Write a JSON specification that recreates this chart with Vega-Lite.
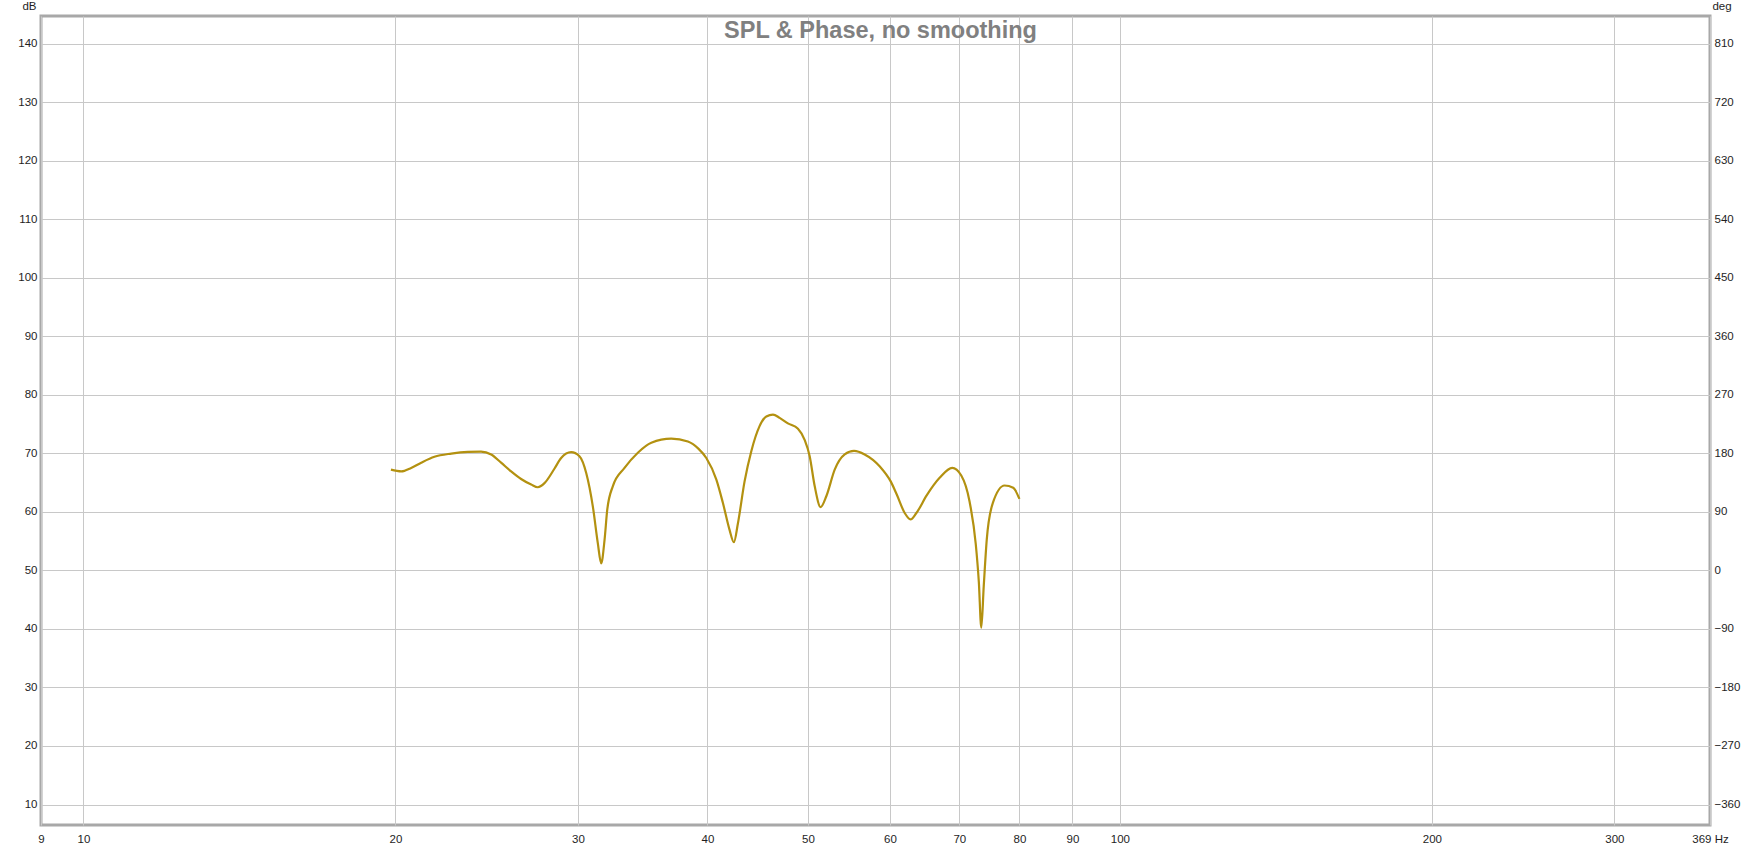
{
  "$schema": "https://vega.github.io/schema/vega-lite/v6.json",
  "width": 1669,
  "height": 809,
  "autosize": {"type": "none"},
  "padding": {"left": 41, "top": 16, "right": 52, "bottom": 24},
  "background": "white",
  "title": {
    "text": "SPL & Phase, no smoothing",
    "font": "Liberation Sans",
    "fontWeight": "bold",
    "fontSize": 23.5,
    "color": "#808080",
    "anchor": "middle",
    "frame": "group",
    "baseline": "alphabetic",
    "offset": -61.5,
    "dx": 5
  },
  "config": {
    "view": {"stroke": "#a8a8a8", "strokeWidth": 3},
    "axis": {
      "labelFont": "Liberation Sans",
      "labelFontSize": 11.5,
      "labelColor": "#1e1e1e",
      "titleFont": "Liberation Sans",
      "titleFontSize": 11.5,
      "titleFontWeight": "normal",
      "titleColor": "#1e1e1e",
      "ticks": false,
      "domain": false,
      "gridColor": "#c8c8c8",
      "gridWidth": 1,
      "gridOpacity": 1,
      "labelOverlap": false,
      "labelFlush": false,
      "labelBound": false
    }
  },
  "data": {
    "values": [
      {"f": 19.8, "spl": 67.2},
      {"f": 20.26, "spl": 66.9},
      {"f": 20.71, "spl": 67.5},
      {"f": 21.18, "spl": 68.4},
      {"f": 21.81, "spl": 69.4},
      {"f": 22.64, "spl": 69.95},
      {"f": 23.49, "spl": 70.25},
      {"f": 24.19, "spl": 70.3},
      {"f": 24.74, "spl": 69.8},
      {"f": 25.29, "spl": 68.4},
      {"f": 25.86, "spl": 66.9},
      {"f": 26.44, "spl": 65.6},
      {"f": 27.04, "spl": 64.65},
      {"f": 27.44, "spl": 64.2},
      {"f": 27.85, "spl": 64.9},
      {"f": 28.48, "spl": 67.4},
      {"f": 28.9, "spl": 69.2},
      {"f": 29.55, "spl": 70.2},
      {"f": 30.1, "spl": 69.5},
      {"f": 30.56, "spl": 66.6},
      {"f": 31.01, "spl": 60.9},
      {"f": 31.35, "spl": 54.7},
      {"f": 31.59, "spl": 51.2},
      {"f": 31.83, "spl": 55.3},
      {"f": 32.02, "spl": 60.4},
      {"f": 32.42, "spl": 64.4},
      {"f": 33.27, "spl": 67.5},
      {"f": 34.27, "spl": 70.1},
      {"f": 35.31, "spl": 71.8},
      {"f": 36.91, "spl": 72.5},
      {"f": 38.3, "spl": 72.0},
      {"f": 39.2, "spl": 70.8},
      {"f": 39.9, "spl": 69.2},
      {"f": 40.8, "spl": 65.5},
      {"f": 41.4, "spl": 61.5},
      {"f": 42.0, "spl": 57.0},
      {"f": 42.42, "spl": 54.8},
      {"f": 42.8, "spl": 58.0},
      {"f": 43.44, "spl": 65.2},
      {"f": 44.1, "spl": 70.4},
      {"f": 44.9, "spl": 74.6},
      {"f": 45.59, "spl": 76.3},
      {"f": 46.27, "spl": 76.6},
      {"f": 46.96, "spl": 76.05},
      {"f": 47.83, "spl": 75.1},
      {"f": 48.91, "spl": 74.2},
      {"f": 49.64, "spl": 72.3},
      {"f": 50.2, "spl": 69.5},
      {"f": 50.76, "spl": 64.4},
      {"f": 51.44, "spl": 60.8},
      {"f": 52.1, "spl": 62.7},
      {"f": 53.07, "spl": 67.2},
      {"f": 54.26, "spl": 69.8},
      {"f": 55.4, "spl": 70.4},
      {"f": 56.72, "spl": 69.8},
      {"f": 58.7, "spl": 67.7},
      {"f": 60.1, "spl": 65.2},
      {"f": 60.9, "spl": 63.0},
      {"f": 62.0, "spl": 59.8},
      {"f": 62.8, "spl": 58.7},
      {"f": 63.63, "spl": 59.8},
      {"f": 65.1, "spl": 62.8},
      {"f": 67.0, "spl": 65.8},
      {"f": 68.9, "spl": 67.5},
      {"f": 70.3, "spl": 66.2},
      {"f": 71.6, "spl": 61.8},
      {"f": 72.6, "spl": 54.5},
      {"f": 73.1, "spl": 48.0},
      {"f": 73.5, "spl": 40.2},
      {"f": 73.9, "spl": 47.3},
      {"f": 74.4, "spl": 55.3},
      {"f": 75.4, "spl": 61.5},
      {"f": 77.4, "spl": 64.5},
      {"f": 78.9, "spl": 64.1},
      {"f": 80.0, "spl": 62.2}
    ]
  },
  "layer": [
    {
      "mark": {"type": "line", "color": "#b39110", "strokeWidth": 2.2, "interpolate": "monotone", "clip": true},
      "encoding": {
        "x": {
          "field": "f",
          "type": "quantitative",
          "scale": {"type": "log", "domain": [9.1, 371], "nice": false},
          "axis": {
            "title": null,
            "grid": true,
            "values": [9.1, 10, 20, 30, 40, 50, 60, 70, 80, 90, 100, 200, 300, 371],
            "labelExpr": "datum.value < 9.5 ? '9' : datum.value > 360 ? '369 Hz' : format(datum.value, 'd')",
            "labelPadding": 8
          }
        },
        "y": {
          "field": "spl",
          "type": "quantitative",
          "scale": {"domain": [6.5, 144.7], "nice": false, "zero": false},
          "axis": {
            "orient": "left",
            "grid": true,
            "values": [10, 20, 30, 40, 50, 60, 70, 80, 90, 100, 110, 120, 130, 140],
            "labelPadding": 4,
            "title": "dB",
            "titleAngle": 0,
            "titleAlign": "center",
            "titleBaseline": "alphabetic",
            "titleX": -12,
            "titleY": -6.5
          }
        }
      }
    },
    {
      "mark": {"type": "line", "strokeOpacity": 0, "clip": true},
      "encoding": {
        "x": {"field": "f", "type": "quantitative"},
        "y": {
          "field": "spl",
          "type": "quantitative",
          "scale": {"domain": [-391.5, 852.3], "nice": false, "zero": false},
          "axis": {
            "orient": "right",
            "grid": false,
            "values": [-360, -270, -180, -90, 0, 90, 180, 270, 360, 450, 540, 630, 720, 810],
            "labelPadding": 4,
            "title": "deg",
            "titleAngle": 0,
            "titleAlign": "center",
            "titleBaseline": "alphabetic",
            "titleX": 11.5,
            "titleY": -7
          }
        }
      }
    }
  ],
  "resolve": {"scale": {"y": "independent"}}
}
